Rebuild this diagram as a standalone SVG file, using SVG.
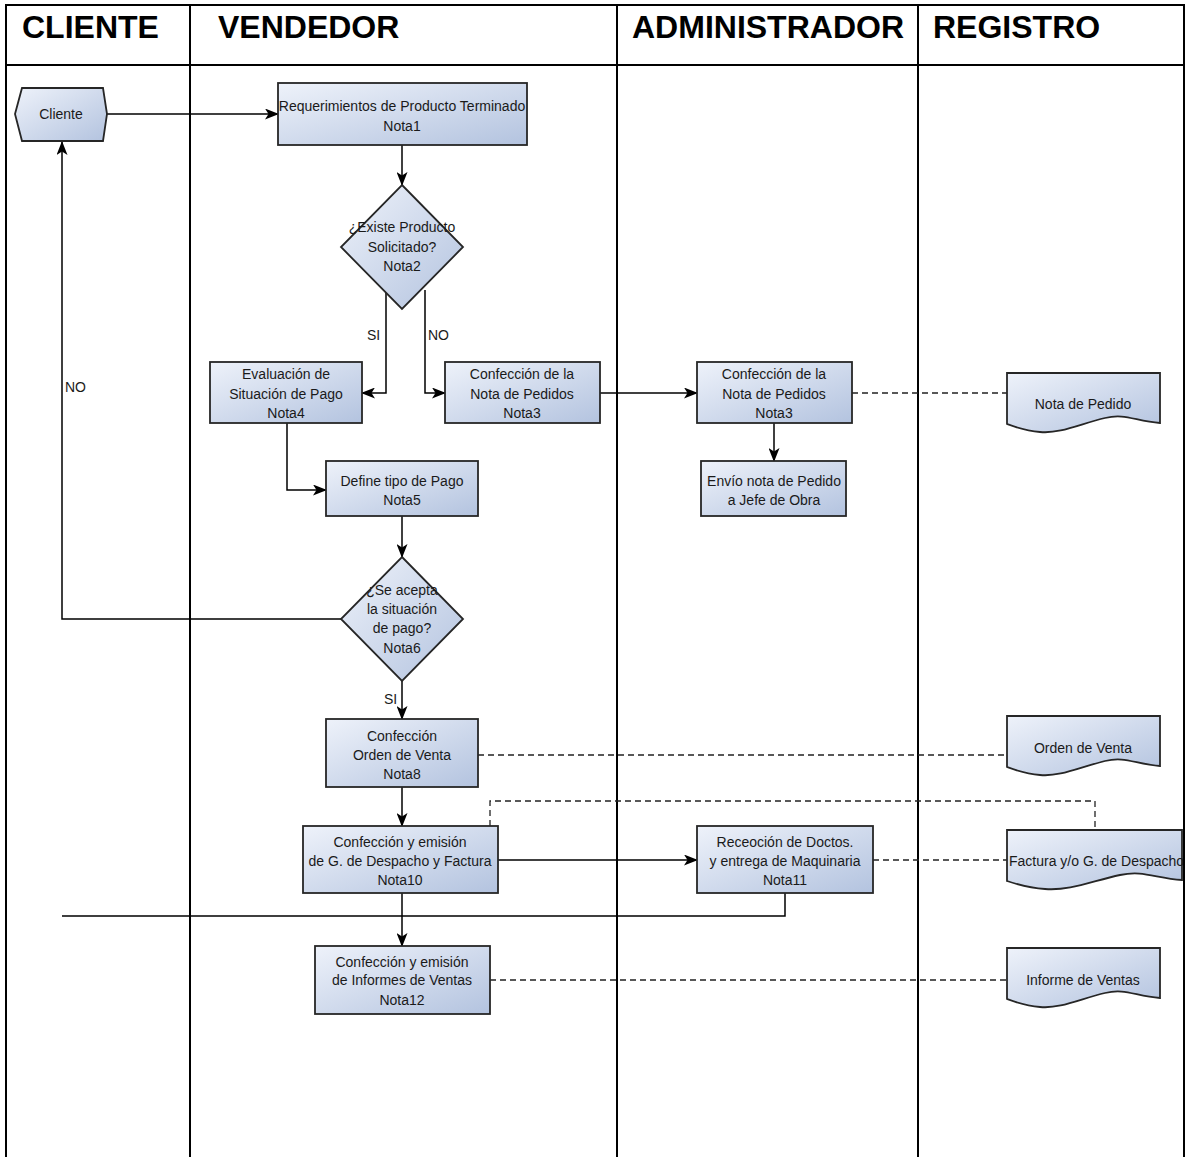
<svg xmlns="http://www.w3.org/2000/svg" width="1187" height="1157" viewBox="0 0 1187 1157">
  <defs>
    <linearGradient id="fillBlue" x1="0" y1="0" x2="1" y2="1">
      <stop offset="0" stop-color="#eef2fa"/>
      <stop offset="1" stop-color="#b3c3df"/>
    </linearGradient>
    <marker id="arrow" viewBox="0 0 14 11" refX="13" refY="5.5" markerWidth="14" markerHeight="11" markerUnits="userSpaceOnUse" orient="auto">
      <path d="M0,0 L14,5.5 L0,11 L3.5,5.5 z" fill="#000"/>
    </marker>
    <style>
      .lane { fill: none; stroke: #000; stroke-width: 2; }
      .head { font-family: "Liberation Sans", Arial, sans-serif; font-weight: bold; font-size: 32px; fill: #000; }
      .shape { fill: url(#fillBlue); stroke: #262626; stroke-width: 1.8; }
      .txt { font-family: "Liberation Sans", Arial, sans-serif; font-size: 14px; fill: #1a1a1a; text-anchor: middle; }
      .lbl { font-family: "Liberation Sans", Arial, sans-serif; font-size: 14px; fill: #1a1a1a; }
      .flow { fill: none; stroke: #000; stroke-width: 1.5; }
      .arr { marker-end: url(#arrow); }
      .dash { fill: none; stroke: #222; stroke-width: 1.3; stroke-dasharray: 6 4; }
    </style>
  </defs>

  <rect width="1187" height="1157" fill="#fff"/>

  <!-- swimlane table -->
  <g id="lanes">
    <path class="lane" d="M6,1157 V5 H1184 V1157"/>
    <line class="lane" x1="6" y1="65" x2="1184" y2="65"/>
    <line class="lane" x1="190" y1="5" x2="190" y2="1157"/>
    <line class="lane" x1="617" y1="5" x2="617" y2="1157"/>
    <line class="lane" x1="918" y1="5" x2="918" y2="1157"/>
    <text class="head" x="22" y="38">CLIENTE</text>
    <text class="head" x="218" y="38">VENDEDOR</text>
    <text class="head" x="632" y="38">ADMINISTRADOR</text>
    <text class="head" x="933" y="38">REGISTRO</text>
  </g>

  <!-- connectors -->
  <g id="connectors">
    <path class="flow arr" d="M107,114 H278"/>
    <path class="flow arr" d="M402,145 V185"/>
    <path class="flow arr" d="M386,293 V393 H362"/>
    <path class="flow arr" d="M425,290 V393 H445"/>
    <path class="flow arr" d="M600,393 H697"/>
    <path class="flow arr" d="M774,423 V461"/>
    <path class="flow arr" d="M287,423 V490 H326"/>
    <path class="flow arr" d="M402,516 V557"/>
    <path class="flow arr" d="M341,619 H62 V142"/>
    <path class="flow arr" d="M402,681 V719"/>
    <path class="flow arr" d="M402,787 V826"/>
    <path class="flow arr" d="M498,860 H697"/>
    <path class="flow" d="M785,893 V916 H62"/>
    <path class="flow arr" d="M402,893 V946"/>
    <path class="dash" d="M852,393 H1007"/>
    <path class="dash" d="M478,755 H1007"/>
    <path class="dash" d="M490,826 V801 H1095 V830"/>
    <path class="dash" d="M873,860 H1007"/>
    <path class="dash" d="M490,980 H1007"/>
    <text class="lbl" x="367" y="340">SI</text>
    <text class="lbl" x="428" y="340">NO</text>
    <text class="lbl" x="65" y="392">NO</text>
    <text class="lbl" x="384" y="704">SI</text>
  </g>

  <!-- nodes -->
  <g id="n-cliente">
    <path class="shape" d="M22,88 H103 L107,114 L103,141 H22 L15,114 Z"/>
    <text class="txt" x="61" y="119">Cliente</text>
  </g>

  <g id="n-requerimientos">
    <rect class="shape" x="278" y="83" width="249" height="62"/>
    <text class="txt" x="402" y="111">Requerimientos de Producto Terminado</text>
    <text class="txt" x="402" y="131">Nota1</text>
  </g>

  <g id="n-existe">
    <path class="shape" d="M402,185 L463,247 L402,309 L341,247 Z"/>
    <text class="txt" x="402" y="232">¿Existe Producto</text>
    <text class="txt" x="402" y="252">Solicitado?</text>
    <text class="txt" x="402" y="271">Nota2</text>
  </g>

  <g id="n-evaluacion">
    <rect class="shape" x="210" y="362" width="152" height="61"/>
    <text class="txt" x="286" y="379">Evaluación de</text>
    <text class="txt" x="286" y="399">Situación de Pago</text>
    <text class="txt" x="286" y="418">Nota4</text>
  </g>

  <g id="n-nota-pedidos-v">
    <rect class="shape" x="445" y="362" width="155" height="61"/>
    <text class="txt" x="522" y="379">Confección de la</text>
    <text class="txt" x="522" y="399">Nota de Pedidos</text>
    <text class="txt" x="522" y="418">Nota3</text>
  </g>

  <g id="n-nota-pedidos-a">
    <rect class="shape" x="697" y="362" width="155" height="61"/>
    <text class="txt" x="774" y="379">Confección de la</text>
    <text class="txt" x="774" y="399">Nota de Pedidos</text>
    <text class="txt" x="774" y="418">Nota3</text>
  </g>

  <g id="n-envio">
    <rect class="shape" x="701" y="461" width="145" height="55"/>
    <text class="txt" x="774" y="486">Envío nota de Pedido</text>
    <text class="txt" x="774" y="505">a Jefe de Obra</text>
  </g>

  <g id="n-define">
    <rect class="shape" x="326" y="461" width="152" height="55"/>
    <text class="txt" x="402" y="486">Define tipo de Pago</text>
    <text class="txt" x="402" y="505">Nota5</text>
  </g>

  <g id="n-acepta">
    <path class="shape" d="M402,557 L463,619 L402,681 L341,619 Z"/>
    <text class="txt" x="402" y="595">¿Se acepta</text>
    <text class="txt" x="402" y="614">la situación</text>
    <text class="txt" x="402" y="633">de pago?</text>
    <text class="txt" x="402" y="653">Nota6</text>
  </g>

  <g id="n-orden">
    <rect class="shape" x="326" y="719" width="152" height="68"/>
    <text class="txt" x="402" y="741">Confección</text>
    <text class="txt" x="402" y="760">Orden de Venta</text>
    <text class="txt" x="402" y="779">Nota8</text>
  </g>

  <g id="n-despacho">
    <rect class="shape" x="303" y="826" width="195" height="67"/>
    <text class="txt" x="400" y="847">Confección y emisión</text>
    <text class="txt" x="400" y="866">de G. de Despacho y Factura</text>
    <text class="txt" x="400" y="885">Nota10</text>
  </g>

  <g id="n-recepcion">
    <rect class="shape" x="697" y="826" width="176" height="67"/>
    <text class="txt" x="785" y="847">Receoción de Doctos.</text>
    <text class="txt" x="785" y="866">y entrega de Maquinaria</text>
    <text class="txt" x="785" y="885">Nota11</text>
  </g>

  <g id="n-informes">
    <rect class="shape" x="315" y="946" width="175" height="68"/>
    <text class="txt" x="402" y="967">Confección y emisión</text>
    <text class="txt" x="402" y="985">de Informes de Ventas</text>
    <text class="txt" x="402" y="1005">Nota12</text>
  </g>

  <g id="d-nota-pedido">
    <path class="shape" d="M1007,373 H1160 V423 C1135,421 1125,413 1105,418 C1080,424 1060,434 1040,432 C1025,431 1015,427 1007,424 Z"/>
    <text class="txt" x="1083" y="409">Nota de Pedido</text>
  </g>

  <g id="d-orden-venta">
    <path class="shape" d="M1007,716 H1160 V766 C1135,764 1125,756 1105,761 C1080,767 1060,777 1040,775 C1025,774 1015,770 1007,767 Z"/>
    <text class="txt" x="1083" y="753">Orden de Venta</text>
  </g>

  <g id="d-factura">
    <path class="shape" d="M1007,830 H1182 V880 C1155,878 1143,870 1120,875 C1092,881 1070,891 1045,889 C1028,888 1016,884 1007,881 Z"/>
    <text class="lbl" x="1009" y="866">Factura y/o G. de Despacho</text>
  </g>

  <g id="d-informe-ventas">
    <path class="shape" d="M1007,948 H1160 V998 C1135,996 1125,988 1105,993 C1080,999 1060,1009 1040,1007 C1025,1006 1015,1002 1007,999 Z"/>
    <text class="txt" x="1083" y="985">Informe de Ventas</text>
  </g>

  <!-- right border drawn last so it clips the overflowing label -->
  <rect x="1185" y="0" width="2" height="1157" fill="#fff"/>
  <line class="lane" x1="1184" y1="5" x2="1184" y2="1157"/>
</svg>
